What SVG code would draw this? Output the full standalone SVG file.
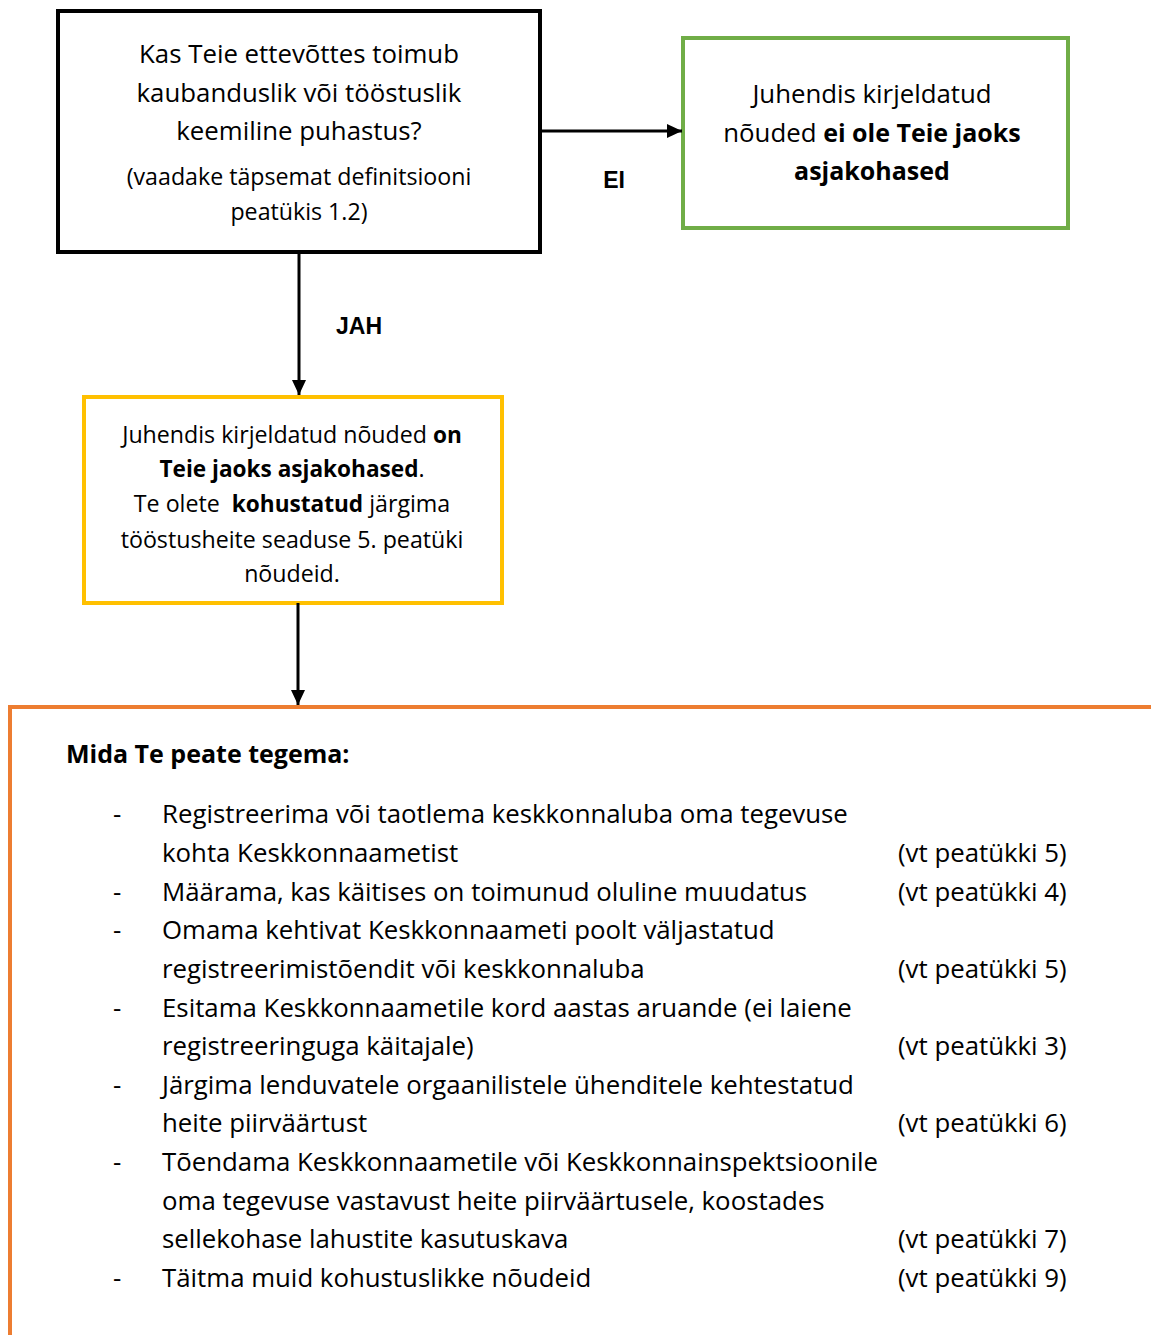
<svg xmlns="http://www.w3.org/2000/svg" width="1151" height="1335" viewBox="0 0 1151 1335">
<defs>
<marker id="ah" viewBox="0 0 15 14" refX="15" refY="7" markerWidth="15" markerHeight="14" markerUnits="userSpaceOnUse" orient="auto">
<path d="M0,0 L15,7 L0,14 Z" fill="#000"/>
</marker>
<style>
.t{font-family:"Open Sans","Liberation Sans",sans-serif;fill:#000;}
.m{font-size:25.8px;}
.m .b,.m.b{font-size:25px;}
.s{font-size:23.2px;}
.y{font-size:23.2px;}
.y .b{font-size:22.6px;}
.b{font-weight:bold;}
.lbl{font-family:"Liberation Sans",Arial,sans-serif;font-weight:bold;font-size:23px;fill:#000;}
.c{text-anchor:middle;}
.conn{stroke:#000;stroke-width:3;fill:none;}
</style>
</defs>
<rect width="1151" height="1335" fill="#fff"/>
<g id="q1">
<rect x="58" y="11" width="482" height="241" fill="#fff" stroke="#000" stroke-width="4"/>
<text class="t m c" x="299" y="63">Kas Teie ettevõttes toimub</text>
<text class="t m c" x="299" y="102">kaubanduslik või tööstuslik</text>
<text class="t m c" x="299" y="140">keemiline puhastus?</text>
<text class="t s c" x="299" y="185">(vaadake täpsemat definitsiooni</text>
<text class="t s c" x="299" y="220">peatükis 1.2)</text>
</g>
<g id="no">
<rect x="683" y="38" width="385" height="190" fill="#fff" stroke="#70AD47" stroke-width="4"/>
<text class="t m c" x="872" y="103">Juhendis kirjeldatud</text>
<text class="t m c" x="872" y="142">nõuded <tspan class="b">ei ole Teie jaoks</tspan></text>
<text class="t m c b" x="872" y="180">asjakohased</text>
</g>
<g id="yes">
<rect x="84" y="397" width="418" height="206" fill="#fff" stroke="#FFC000" stroke-width="4"/>
<text class="t y c" x="292" y="443">Juhendis kirjeldatud nõuded <tspan class="b">on</tspan></text>
<text class="t y c" x="292" y="477"><tspan class="b">Teie jaoks asjakohased</tspan>.</text>
<text class="t y c" x="292" y="512">Te olete&#160; <tspan class="b">kohustatud</tspan> järgima</text>
<text class="t y c" x="292" y="548">tööstusheite seaduse 5. peatüki</text>
<text class="t y c" x="292" y="582">nõudeid.</text>
</g>
<g id="todo">
<rect x="10" y="707" width="1160" height="700" fill="#fff" stroke="#ED7D31" stroke-width="4"/>
<text class="t m b" x="66" y="763">Mida Te peate tegema:</text>
<g class="t m">
<text x="113" y="823">-</text>
<text x="162" y="823">Registreerima või taotlema keskkonnaluba oma tegevuse</text>
<text x="162" y="862">kohta Keskkonnaametist</text>
<text x="898" y="862">(vt peatükki 5)</text>
<text x="113" y="901">-</text>
<text x="162" y="901">Määrama, kas käitises on toimunud oluline muudatus</text>
<text x="898" y="901">(vt peatükki 4)</text>
<text x="113" y="939">-</text>
<text x="162" y="939">Omama kehtivat Keskkonnaameti poolt väljastatud</text>
<text x="162" y="978">registreerimistõendit või keskkonnaluba</text>
<text x="898" y="978">(vt peatükki 5)</text>
<text x="113" y="1017">-</text>
<text x="162" y="1017">Esitama Keskkonnaametile kord aastas aruande (ei laiene</text>
<text x="162" y="1055">registreeringuga käitajale)</text>
<text x="898" y="1055">(vt peatükki 3)</text>
<text x="113" y="1094">-</text>
<text x="162" y="1094">Järgima lenduvatele orgaanilistele ühenditele kehtestatud</text>
<text x="162" y="1132">heite piirväärtust</text>
<text x="898" y="1132">(vt peatükki 6)</text>
<text x="113" y="1171">-</text>
<text x="162" y="1171">Tõendama Keskkonnaametile või Keskkonnainspektsioonile</text>
<text x="162" y="1210">oma tegevuse vastavust heite piirväärtusele, koostades</text>
<text x="162" y="1248">sellekohase lahustite kasutuskava</text>
<text x="898" y="1248">(vt peatükki 7)</text>
<text x="113" y="1287">-</text>
<text x="162" y="1287">Täitma muid kohustuslikke nõudeid</text>
<text x="898" y="1287">(vt peatükki 9)</text>
</g>
</g>
<g id="connectors">
<line class="conn" x1="540" y1="131" x2="682" y2="131" marker-end="url(#ah)"/>
<line class="conn" x1="299" y1="252" x2="299" y2="395" marker-end="url(#ah)"/>
<line class="conn" x1="298" y1="603" x2="298" y2="705" marker-end="url(#ah)"/>
<text class="lbl c" x="614" y="188">EI</text>
<text class="lbl c" x="359" y="334">JAH</text>
</g>
</svg>
